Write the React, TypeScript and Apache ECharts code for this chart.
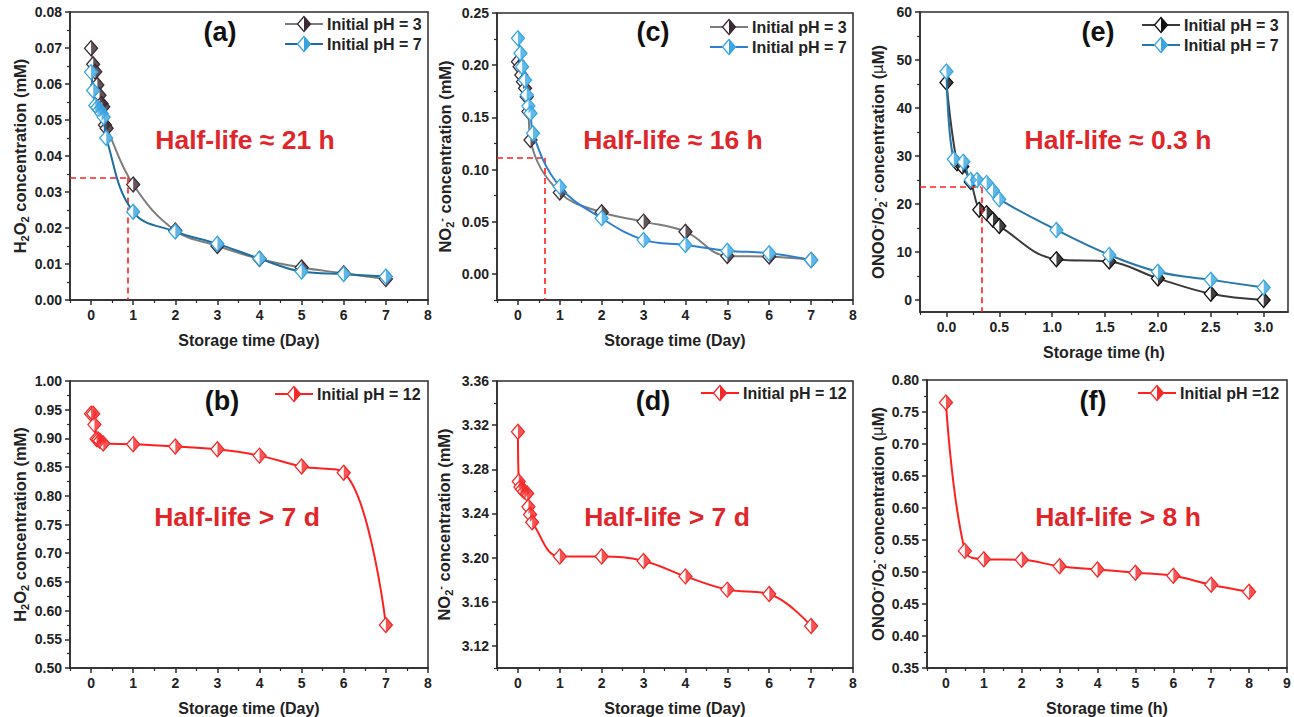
import React, { useEffect, useRef } from "react";
import * as echarts from "echarts";

const FONT = "'Liberation Sans', Arial, Helvetica, sans-serif";
const AXIS = "#2b2b2b";
const RED = "#ff1f1f";
const RED_TEXT = "#e0262a";

// ---------- data ----------
// (a) H2O2, days
const aDay3 = [0, 0.05, 0.1, 0.15, 0.2, 0.25, 0.29, 0.33, 0.37, 1, 2, 3, 4, 5, 6, 7];
const aH2O2pH3 = [0.0699, 0.0655, 0.0634, 0.0597, 0.0569, 0.0545, 0.0537, 0.0486, 0.0477, 0.0321, 0.0193, 0.015, 0.0114, 0.009, 0.0074, 0.0058];
const aDay7 = [0, 0.05, 0.1, 0.15, 0.2, 0.25, 0.3, 0.36, 1, 2, 3, 4, 5, 6, 7];
const aH2O2pH7 = [0.0633, 0.0582, 0.054, 0.0535, 0.0528, 0.0518, 0.0508, 0.045, 0.0245, 0.019, 0.0156, 0.0115, 0.0079, 0.0072, 0.0065];
const aGuide = [0.88, 0.034];

// (c) NO2-, days
const cDay3 = [0, 0.04, 0.08, 0.12, 0.17, 0.21, 0.25, 0.3, 1, 2, 3, 4, 5, 6, 7];
const cNO2pH3 = [0.2034, 0.1986, 0.1906, 0.1842, 0.1779, 0.1698, 0.1555, 0.1284, 0.0779, 0.0591, 0.0501, 0.0405, 0.0172, 0.0166, 0.0134];
const cDay7 = [0, 0.06, 0.1, 0.17, 0.21, 0.25, 0.3, 0.36, 1, 2, 3, 4, 5, 6, 7];
const cNO2pH7 = [0.2257, 0.2114, 0.1986, 0.1858, 0.1715, 0.1609, 0.1539, 0.1347, 0.0836, 0.0533, 0.0326, 0.0278, 0.0223, 0.0198, 0.0134];
const cGuide = [0.64, 0.111];

// (e) ONOO-/O2-, hours
const eHour3 = [0, 0.1, 0.15, 0.23, 0.31, 0.38, 0.44, 0.5, 1.04, 1.54, 2.0, 2.5, 3.0];
const eONOOpH3 = [45.3, 28.5, 27.8, 24.6, 18.8, 18.1, 16.7, 15.4, 8.5, 8.0, 4.5, 1.3, 0.0];
const eHour7 = [0, 0.07, 0.16, 0.23, 0.29, 0.38, 0.44, 0.5, 1.04, 1.54, 2.0, 2.5, 3.0];
const eONOOpH7 = [47.6, 29.3, 28.8, 25.0, 25.0, 24.4, 22.8, 21.0, 14.6, 9.4, 5.9, 4.2, 2.6];
const eGuide = [0.33, 23.5];

// (b) H2O2 pH 12, days
const bDay = [0, 0.05, 0.08, 0.13, 0.17, 0.21, 0.29, 1, 2, 3, 4, 5, 6, 7];
const bH2O2pH12 = [0.943, 0.943, 0.924, 0.899, 0.898, 0.896, 0.891, 0.89, 0.886, 0.881, 0.87, 0.851, 0.84, 0.575];

// (d) NO2- pH 12, days
const dDay = [0, 0.02, 0.06, 0.1, 0.15, 0.22, 0.25, 0.29, 0.34, 1, 2, 3, 4, 5, 6, 7];
const dNO2pH12 = [3.314, 3.269, 3.264, 3.262, 3.26, 3.258, 3.246, 3.239, 3.232, 3.201, 3.201, 3.197, 3.183, 3.171, 3.167, 3.138];

// (f) ONOO-/O2- pH 12, hours
const fHour = [0, 0.5, 1, 2, 3, 4, 5, 6, 7, 8];
const fONOOpH12 = [0.765, 0.533, 0.52, 0.519, 0.509, 0.504, 0.499, 0.494, 0.48, 0.469];

// tick labels
const dayTicks = [0, 1, 2, 3, 4, 5, 6, 7, 8];
const hourTicksE = [0, 0.5, 1.0, 1.5, 2.0, 2.5, 3.0];
const hourTicksF = [0, 1, 2, 3, 4, 5, 6, 7, 8, 9];
const aTicks = [0, 0.01, 0.02, 0.03, 0.04, 0.05, 0.06, 0.07, 0.08];
const cTicks = [0, 0.05, 0.1, 0.15, 0.2, 0.25];
const eTicks = [0, 10, 20, 30, 40, 50, 60];
const bTicks = [0.5, 0.55, 0.6, 0.65, 0.7, 0.75, 0.8, 0.85, 0.9, 0.95, 1.0];
const dTicks = [3.12, 3.16, 3.2, 3.24, 3.28, 3.32, 3.36];
const fTicks = [0.35, 0.4, 0.45, 0.5, 0.55, 0.6, 0.65, 0.7, 0.75, 0.8];

const legendPH3 = "Initial pH = 3";
const legendPH7 = "Initial pH = 7";
const legendPH12 = "Initial pH = 12";
const legendPH12f = "Initial pH =12";

// ---------- styles ----------
const C3 = { line: "#7d7d7d", mark: "#3b2a33" };
const C7 = { line: "#1f6d9e", mark: "#39a3dd" };
const C7c = { line: "#2e80cc", mark: "#38a7e2" };
const C3e = { line: "#3a3a3a", mark: "#111111" };
const C7e = { line: "#2777a8", mark: "#3aa5df" };
const CR = { line: RED, mark: "#f42a2a" };

type S = { name: string; x: number[]; y: number[]; c: { line: string; mark: string } };
type P = {
  left: number; top: number; width: number; height: number;
  xMin: number; xMax: number; xMajor: number[]; xDec: number; xName: string;
  yMin: number; yMax: number; yMajor: number[]; yDec: number; yName: string; yGap: number;
  series: S[];
  guide?: number[];
  tag: string; tagX: number; tagY: number;
  half: string; halfX: number; halfY: number;
  legX: number; legY: number;
};

const Y_H2O2 = "{b|H}{s|2}{b|O}{s|2}{b| concentration (mM)}";
const Y_NO2 = "{b|NO}{s|2}{p|-}{b| concentration (mM)}";
const Y_ONOO = "{b|ONOO}{p|-}{b|/O}{s|2}{p|-}{b| concentration (}{m|μ}{b|M)}";

const panels: P[] = [
  {
    left: 70, top: 12, width: 358, height: 288,
    xMin: -0.5, xMax: 8, xMajor: dayTicks, xDec: 0, xName: "Storage time (Day)",
    yMin: 0, yMax: 0.08, yMajor: aTicks, yDec: 2, yName: Y_H2O2, yGap: 40,
    series: [{ name: legendPH3, x: aDay3, y: aH2O2pH3, c: C3 }, { name: legendPH7, x: aDay7, y: aH2O2pH7, c: C7 }],
    guide: aGuide,
    tag: "(a)", tagX: 220, tagY: 32, half: "Half-life ≈ 21 h", halfX: 245, halfY: 140, legX: 285, legY: 24,
  },
  {
    left: 497, top: 13, width: 356, height: 287,
    xMin: -0.5, xMax: 8, xMajor: dayTicks, xDec: 0, xName: "Storage time (Day)",
    yMin: -0.025, yMax: 0.25, yMajor: cTicks, yDec: 2, yName: Y_NO2, yGap: 42,
    series: [{ name: legendPH3, x: cDay3, y: cNO2pH3, c: C3 }, { name: legendPH7, x: cDay7, y: cNO2pH7, c: C7c }],
    guide: cGuide,
    tag: "(c)", tagX: 653, tagY: 32, half: "Half-life ≈ 16 h", halfX: 673, halfY: 140, legX: 710, legY: 27,
  },
  {
    left: 920, top: 12, width: 368, height: 300,
    xMin: -0.25, xMax: 3.23, xMajor: hourTicksE, xDec: 1, xName: "Storage time (h)",
    yMin: -2.5, yMax: 60, yMajor: eTicks, yDec: 0, yName: Y_ONOO, yGap: 32,
    series: [{ name: legendPH3, x: eHour3, y: eONOOpH3, c: C3e }, { name: legendPH7, x: eHour7, y: eONOOpH7, c: C7e }],
    guide: eGuide,
    tag: "(e)", tagX: 1098, tagY: 32, half: "Half-life ≈ 0.3 h", halfX: 1118, halfY: 140, legX: 1142, legY: 25,
  },
  {
    left: 70, top: 381, width: 358, height: 289,
    xMin: -0.5, xMax: 8, xMajor: dayTicks, xDec: 0, xName: "Storage time (Day)",
    yMin: 0.5, yMax: 1.0, yMajor: bTicks, yDec: 2, yName: Y_H2O2, yGap: 40,
    series: [{ name: legendPH12, x: bDay, y: bH2O2pH12, c: CR }],
    tag: "(b)", tagX: 222, tagY: 401, half: "Half-life > 7 d", halfX: 237, halfY: 517, legX: 275, legY: 394,
  },
  {
    left: 497, top: 381, width: 356, height: 287,
    xMin: -0.5, xMax: 8, xMajor: dayTicks, xDec: 0, xName: "Storage time (Day)",
    yMin: 3.1, yMax: 3.36, yMajor: dTicks, yDec: 2, yName: Y_NO2, yGap: 43,
    series: [{ name: legendPH12, x: dDay, y: dNO2pH12, c: CR }],
    tag: "(d)", tagX: 653, tagY: 401, half: "Half-life > 7 d", halfX: 667, halfY: 517, legX: 701, legY: 393,
  },
  {
    left: 927, top: 380, width: 360, height: 289,
    xMin: -0.5, xMax: 9, xMajor: hourTicksF, xDec: 0, xName: "Storage time (h)",
    yMin: 0.35, yMax: 0.8, yMajor: fTicks, yDec: 2, yName: Y_ONOO, yGap: 38,
    series: [{ name: legendPH12f, x: fHour, y: fONOOpH12, c: CR }],
    tag: "(f)", tagX: 1093, tagY: 401, half: "Half-life > 8 h", halfX: 1118, halfY: 517, legX: 1138, legY: 393,
  },
];

function minors(major: number[], lo: number, hi: number): number[] {
  const step = major[1] - major[0];
  const out: number[] = [];
  const all = [major[0] - step / 2, ...major.map((v) => v + step / 2)];
  all.forEach((v) => {
    const r = Math.round(v * 100000) / 100000;
    if (r >= lo - 1e-9 && r <= hi + 1e-9) out.push(r);
  });
  return out;
}

const HALF_PATH = "path://M0,0L1,1L0,2Z";

function buildOption() {
  const grid: any[] = [];
  const xAxis: any[] = [];
  const yAxis: any[] = [];
  const series: any[] = [];
  const graphic: any[] = [];

  const tickLabel = { fontFamily: FONT, fontWeight: "bold", fontSize: 14, color: "#222" };
  const nameStyle = { fontFamily: FONT, fontWeight: "bold", fontSize: 16, color: "#222" };

  panels.forEach((p, i) => {
    grid.push({
      left: p.left, top: p.top, width: p.width, height: p.height,
      show: true, borderColor: AXIS, borderWidth: 1.5, backgroundColor: "transparent",
    });
    xAxis.push({
      type: "value", gridIndex: i, min: p.xMin, max: p.xMax, position: "bottom",
      axisLine: { show: true, onZero: false, lineStyle: { color: AXIS, width: 1.5 } },
      axisTick: { show: true, length: 5, customValues: p.xMajor, lineStyle: { color: AXIS, width: 1.5 } },
      axisLabel: { show: true, customValues: p.xMajor, margin: 8, formatter: ((d: number) => (v: number) => v.toFixed(d))(p.xDec), ...tickLabel },
      splitLine: { show: false },
      name: p.xName, nameLocation: "middle", nameGap: 32, nameTextStyle: nameStyle,
    });
    xAxis.push({
      type: "value", gridIndex: i, min: p.xMin, max: p.xMax, position: "bottom",
      axisLine: { show: false, onZero: false },
      axisTick: { show: true, length: 3, customValues: minors(p.xMajor, p.xMin, p.xMax), lineStyle: { color: AXIS, width: 1.2 } },
      axisLabel: { show: false },
      splitLine: { show: false },
    });
    yAxis.push({
      type: "value", gridIndex: i, min: p.yMin, max: p.yMax, position: "left",
      axisLine: { show: true, onZero: false, lineStyle: { color: AXIS, width: 1.5 } },
      axisTick: { show: true, length: 5, customValues: p.yMajor, lineStyle: { color: AXIS, width: 1.5 } },
      axisLabel: { show: true, customValues: p.yMajor, margin: 8, formatter: ((d: number) => (v: number) => v.toFixed(d))(p.yDec), ...tickLabel },
      splitLine: { show: false },
      name: p.yName, nameLocation: "middle", nameGap: p.yGap, nameRotate: 90,
      nameTextStyle: {
        ...nameStyle,
        rich: {
          b: { fontFamily: FONT, fontWeight: "bold", fontSize: 16.5, color: "#222", lineHeight: 20 },
          m: { fontFamily: "'DejaVu Sans', sans-serif", fontWeight: "normal", fontSize: 15, color: "#222", lineHeight: 20 },
          s: { fontFamily: FONT, fontWeight: "bold", fontSize: 11, color: "#222", lineHeight: 11, verticalAlign: "bottom" },
          p: { fontFamily: FONT, fontWeight: "bold", fontSize: 11, color: "#222", lineHeight: 11, verticalAlign: "top" },
        },
      },
    });
    yAxis.push({
      type: "value", gridIndex: i, min: p.yMin, max: p.yMax, position: "left",
      axisLine: { show: false, onZero: false },
      axisTick: { show: true, length: 3, customValues: minors(p.yMajor, p.yMin, p.yMax), lineStyle: { color: AXIS, width: 1.2 } },
      axisLabel: { show: false },
      splitLine: { show: false },
    });

    p.series.forEach((s, k) => {
      const data = s.x.map((xv, j) => [xv, s.y[j]]);
      const zBase = 3 + k * 3;
      const line: any = {
        type: "line", name: s.name, xAxisIndex: 2 * i, yAxisIndex: 2 * i, data,
        smooth: 0.4, symbol: "diamond", symbolSize: [13, 15], showAllSymbol: true,
        lineStyle: { color: s.c.line, width: 2 },
        itemStyle: { color: "#ffffff", borderColor: s.c.mark, borderWidth: 1.3 },
        emphasis: { disabled: true }, silent: true, z: zBase,
      };
      if (k === 0 && p.guide) {
        const [gx, gy] = p.guide;
        line.markLine = {
          silent: true, symbol: ["none", "none"], label: { show: false },
          lineStyle: { color: RED, width: 1.6, type: [6, 4] },
          data: [
            [{ coord: [p.xMin, gy] }, { coord: [gx, gy] }],
            [{ coord: [gx, gy] }, { coord: [gx, p.yMin] }],
          ],
        };
      }
      series.push(line);
      series.push({
        type: "scatter", xAxisIndex: 2 * i, yAxisIndex: 2 * i, data,
        symbol: HALF_PATH, symbolSize: [6.5, 15], symbolOffset: [3.25, 0],
        itemStyle: { color: s.c.mark }, emphasis: { disabled: true }, silent: true, z: zBase + 1,
      });

      // legend entry
      const ly = p.legY + k * 20;
      const lx = p.legX;
      const cx = lx + 19;
      graphic.push({ type: "line", silent: true, z: 20, shape: { x1: lx, y1: ly, x2: lx + 38, y2: ly }, style: { stroke: s.c.line, lineWidth: 2 } });
      graphic.push({ type: "polygon", silent: true, z: 21, shape: { points: [[cx, ly - 7.5], [cx - 6.5, ly], [cx, ly + 7.5], [cx + 6.5, ly]] }, style: { fill: "#ffffff", stroke: s.c.mark, lineWidth: 1.3 } });
      graphic.push({ type: "polygon", silent: true, z: 22, shape: { points: [[cx, ly - 7.5], [cx + 6.5, ly], [cx, ly + 7.5]] }, style: { fill: s.c.mark } });
      graphic.push({
        type: "text", silent: true, z: 22, x: lx + 42, y: ly,
        style: { text: s.name, fill: "#222", fontFamily: FONT, fontWeight: "bold", fontSize: 16, align: "left", verticalAlign: "middle" },
      });
    });

    graphic.push({
      type: "text", silent: true, z: 20, x: p.tagX, y: p.tagY,
      style: { text: p.tag, fill: "#111", fontFamily: FONT, fontWeight: "bold", fontSize: 27, align: "center", verticalAlign: "middle" },
    });
    graphic.push({
      type: "text", silent: true, z: 20, x: p.halfX, y: p.halfY,
      style: { text: p.half, fill: RED_TEXT, fontFamily: FONT, fontWeight: "bold", fontSize: 26.5, align: "center", verticalAlign: "middle" },
    });
  });

  return { animation: false, backgroundColor: "#ffffff", grid, xAxis, yAxis, series, graphic };
}

export default function App() {
  const ref = useRef<HTMLDivElement>(null);
  useEffect(() => {
    if (!ref.current) return;
    const chart = echarts.init(ref.current, null, { renderer: "svg" });
    chart.setOption(buildOption() as any);
    return () => chart.dispose();
  }, []);
  return <div ref={ref} style={{ position: "fixed", left: 0, top: 0, width: 1294, height: 717 }} />;
}
